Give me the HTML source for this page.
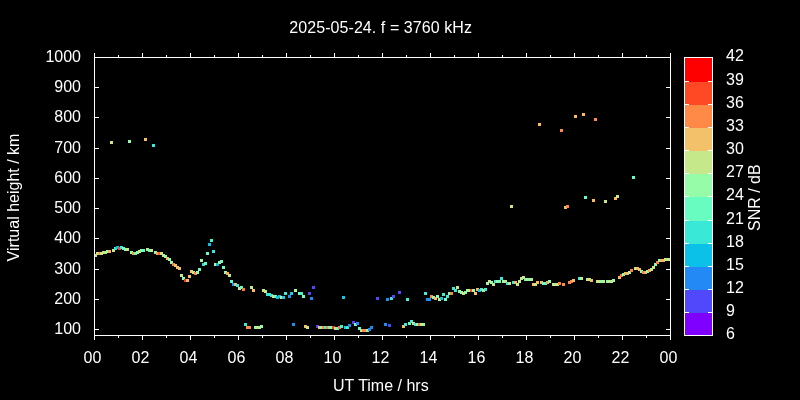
<!DOCTYPE html><html><head><meta charset="utf-8"><title>plot</title><style>html,body{margin:0;padding:0;background:#000;}svg{display:block}text{font-family:"Liberation Sans",sans-serif;font-size:16px;fill:#ffffff}</style></head><body>
<svg width="800" height="400" viewBox="0 0 800 400">
<rect width="800" height="400" fill="#000"/>
<g shape-rendering="crispEdges"><rect x="684" y="312" width="29" height="24" fill="#8000ff"/><rect x="684" y="289" width="29" height="24" fill="#5148fc"/><rect x="684" y="266" width="29" height="24" fill="#238af5"/><rect x="684" y="243" width="29" height="24" fill="#0cc1e8"/><rect x="684" y="220" width="29" height="24" fill="#3ae8d7"/><rect x="684" y="196" width="29" height="25" fill="#68fcc1"/><rect x="684" y="173" width="29" height="24" fill="#97fca7"/><rect x="684" y="150" width="29" height="24" fill="#c5e88a"/><rect x="684" y="127" width="29" height="24" fill="#f3c16a"/><rect x="684" y="104" width="29" height="24" fill="#ff8a48"/><rect x="684" y="81" width="29" height="24" fill="#ff4824"/><rect x="684" y="57" width="29" height="25" fill="#ff0000"/></g>
<g shape-rendering="crispEdges"><rect x="94" y="254" width="3" height="3" fill="#c5e88a"/><rect x="96" y="252" width="3" height="3" fill="#c5e88a"/><rect x="98" y="252" width="3" height="3" fill="#ffa156"/><rect x="100" y="252" width="3" height="3" fill="#c5e88a"/><rect x="102" y="251" width="3" height="3" fill="#c5e88a"/><rect x="104" y="251" width="3" height="3" fill="#c5e88a"/><rect x="106" y="250" width="3" height="3" fill="#97fca7"/><rect x="108" y="250" width="3" height="3" fill="#ffac5d"/><rect x="110" y="141" width="3" height="3" fill="#c5e88a"/><rect x="112" y="249" width="3" height="3" fill="#c5e88a"/><rect x="114" y="247" width="3" height="3" fill="#3ae8d7"/><rect x="116" y="246" width="3" height="3" fill="#0cc1e8"/><rect x="118" y="247" width="3" height="3" fill="#ff4824"/><rect x="120" y="246" width="3" height="3" fill="#3ae8d7"/><rect x="122" y="247" width="3" height="3" fill="#68fcc1"/><rect x="124" y="248" width="3" height="3" fill="#97fca7"/><rect x="126" y="248" width="3" height="3" fill="#c5e88a"/><rect x="128" y="140" width="3" height="3" fill="#97fca7"/><rect x="130" y="251" width="3" height="3" fill="#97fca7"/><rect x="132" y="252" width="3" height="3" fill="#ff964f"/><rect x="134" y="252" width="3" height="3" fill="#68fcc1"/><rect x="136" y="251" width="3" height="3" fill="#97fca7"/><rect x="138" y="250" width="3" height="3" fill="#c5e88a"/><rect x="140" y="249" width="3" height="3" fill="#80ffb4"/><rect x="142" y="249" width="3" height="3" fill="#68fcc1"/><rect x="144" y="138" width="3" height="3" fill="#f3c16a"/><rect x="146" y="248" width="3" height="3" fill="#c5e88a"/><rect x="148" y="249" width="3" height="3" fill="#5ffac5"/><rect x="150" y="249" width="3" height="3" fill="#c5e88a"/><rect x="152" y="144" width="3" height="3" fill="#3ae8d7"/><rect x="154" y="251" width="3" height="3" fill="#97fca7"/><rect x="156" y="252" width="3" height="3" fill="#ffa156"/><rect x="158" y="252" width="3" height="3" fill="#ff6333"/><rect x="160" y="252" width="3" height="3" fill="#c5e88a"/><rect x="162" y="254" width="3" height="3" fill="#c5e88a"/><rect x="164" y="255" width="3" height="3" fill="#97fca7"/><rect x="166" y="257" width="3" height="3" fill="#f8bc67"/><rect x="168" y="258" width="3" height="3" fill="#97fca7"/><rect x="170" y="261" width="3" height="3" fill="#97fca7"/><rect x="172" y="263" width="3" height="3" fill="#ff7d41"/><rect x="174" y="264" width="3" height="3" fill="#f3c16a"/><rect x="176" y="266" width="3" height="3" fill="#f3c16a"/><rect x="178" y="267" width="3" height="3" fill="#f8bc67"/><rect x="180" y="274" width="3" height="3" fill="#c5e88a"/><rect x="182" y="277" width="3" height="3" fill="#80ffb4"/><rect x="184" y="279" width="3" height="3" fill="#ff3319"/><rect x="186" y="279" width="3" height="3" fill="#f3c16a"/><rect x="188" y="275" width="3" height="3" fill="#f3c16a"/><rect x="190" y="270" width="3" height="3" fill="#f3c16a"/><rect x="192" y="271" width="3" height="3" fill="#c5e88a"/><rect x="194" y="272" width="3" height="3" fill="#ff7d41"/><rect x="196" y="271" width="3" height="3" fill="#97fca7"/><rect x="198" y="268" width="3" height="3" fill="#68fcc1"/><rect x="200" y="259" width="3" height="3" fill="#a0faa1"/><rect x="202" y="263" width="3" height="3" fill="#2cdedc"/><rect x="204" y="262" width="3" height="3" fill="#68fcc1"/><rect x="206" y="252" width="3" height="3" fill="#68fcc1"/><rect x="208" y="243" width="3" height="3" fill="#0cc1e8"/><rect x="210" y="239" width="3" height="3" fill="#48f0d0"/><rect x="212" y="250" width="3" height="3" fill="#3ae8d7"/><rect x="214" y="263" width="3" height="3" fill="#aef599"/><rect x="216" y="263" width="3" height="3" fill="#02b7eb"/><rect x="218" y="261" width="3" height="3" fill="#a5f89f"/><rect x="220" y="260" width="3" height="3" fill="#68fcc1"/><rect x="222" y="266" width="3" height="3" fill="#68fcc1"/><rect x="224" y="271" width="3" height="3" fill="#97fca7"/><rect x="226" y="272" width="3" height="3" fill="#ffa759"/><rect x="228" y="274" width="3" height="3" fill="#c5e88a"/><rect x="230" y="280" width="3" height="3" fill="#5af8c8"/><rect x="232" y="283" width="3" height="3" fill="#159cf1"/><rect x="234" y="283" width="3" height="3" fill="#f8bc67"/><rect x="236" y="284" width="3" height="3" fill="#3ae8d7"/><rect x="238" y="287" width="3" height="3" fill="#c5e88a"/><rect x="240" y="286" width="3" height="3" fill="#68fcc1"/><rect x="242" y="288" width="3" height="3" fill="#ff773d"/><rect x="244" y="323" width="3" height="3" fill="#3ae8d7"/><rect x="246" y="326" width="3" height="3" fill="#ff8a48"/><rect x="248" y="326" width="3" height="3" fill="#ff8a48"/><rect x="250" y="286" width="3" height="3" fill="#c5e88a"/><rect x="252" y="289" width="3" height="3" fill="#f8bc67"/><rect x="254" y="326" width="3" height="3" fill="#97fca7"/><rect x="256" y="326" width="3" height="3" fill="#c5e88a"/><rect x="258" y="326" width="3" height="3" fill="#c5e88a"/><rect x="260" y="325" width="3" height="3" fill="#97fca7"/><rect x="262" y="289" width="3" height="3" fill="#c5e88a"/><rect x="264" y="290" width="3" height="3" fill="#c5e88a"/><rect x="266" y="293" width="3" height="3" fill="#3ae8d7"/><rect x="268" y="293" width="3" height="3" fill="#3ae8d7"/><rect x="270" y="294" width="3" height="3" fill="#3ae8d7"/><rect x="272" y="295" width="3" height="3" fill="#c5e88a"/><rect x="274" y="295" width="3" height="3" fill="#68fcc1"/><rect x="276" y="296" width="3" height="3" fill="#0cc1e8"/><rect x="278" y="295" width="3" height="3" fill="#0cc1e8"/><rect x="280" y="296" width="3" height="3" fill="#c5e88a"/><rect x="282" y="296" width="3" height="3" fill="#15cae5"/><rect x="284" y="292" width="3" height="3" fill="#3febd5"/><rect x="288" y="295" width="3" height="3" fill="#1e90f4"/><rect x="290" y="292" width="3" height="3" fill="#19cee3"/><rect x="292" y="323" width="3" height="3" fill="#1e90f4"/><rect x="294" y="289" width="3" height="3" fill="#a5f89f"/><rect x="298" y="292" width="3" height="3" fill="#80ffb4"/><rect x="300" y="292" width="3" height="3" fill="#48f0d0"/><rect x="302" y="295" width="3" height="3" fill="#76ffb9"/><rect x="304" y="325" width="3" height="3" fill="#f8bc67"/><rect x="306" y="326" width="3" height="3" fill="#c5e88a"/><rect x="308" y="292" width="3" height="3" fill="#5148fc"/><rect x="310" y="297" width="3" height="3" fill="#238af5"/><rect x="312" y="286" width="3" height="3" fill="#5148fc"/><rect x="316" y="325" width="3" height="3" fill="#5148fc"/><rect x="318" y="326" width="3" height="3" fill="#f3c16a"/><rect x="320" y="326" width="3" height="3" fill="#97fca7"/><rect x="322" y="326" width="3" height="3" fill="#ff8a48"/><rect x="324" y="326" width="3" height="3" fill="#48f0d0"/><rect x="326" y="326" width="3" height="3" fill="#ff8a48"/><rect x="328" y="326" width="3" height="3" fill="#68fcc1"/><rect x="330" y="326" width="3" height="3" fill="#97fca7"/><rect x="332" y="326" width="3" height="3" fill="#ff3a1d"/><rect x="334" y="327" width="3" height="3" fill="#c5e88a"/><rect x="336" y="327" width="3" height="3" fill="#6dfdbe"/><rect x="338" y="326" width="3" height="3" fill="#ff773d"/><rect x="340" y="325" width="3" height="3" fill="#43eed2"/><rect x="342" y="296" width="3" height="3" fill="#10c5e6"/><rect x="344" y="326" width="3" height="3" fill="#19cee3"/><rect x="346" y="326" width="3" height="3" fill="#43eed2"/><rect x="348" y="324" width="3" height="3" fill="#238af5"/><rect x="352" y="321" width="3" height="3" fill="#5a3afd"/><rect x="354" y="323" width="3" height="3" fill="#6dfdbe"/><rect x="356" y="322" width="3" height="3" fill="#238af5"/><rect x="358" y="327" width="3" height="3" fill="#6dfdbe"/><rect x="360" y="329" width="3" height="3" fill="#c5e88a"/><rect x="362" y="329" width="3" height="3" fill="#ff8a48"/><rect x="364" y="329" width="3" height="3" fill="#ff8a48"/><rect x="366" y="329" width="3" height="3" fill="#9bfba4"/><rect x="368" y="328" width="3" height="3" fill="#238af5"/><rect x="370" y="326" width="3" height="3" fill="#238af5"/><rect x="376" y="297" width="3" height="3" fill="#5148fc"/><rect x="384" y="323" width="3" height="3" fill="#1e90f4"/><rect x="386" y="298" width="3" height="3" fill="#1e90f4"/><rect x="388" y="324" width="3" height="3" fill="#5148fc"/><rect x="390" y="297" width="3" height="3" fill="#3ae8d7"/><rect x="392" y="295" width="3" height="3" fill="#5148fc"/><rect x="398" y="291" width="3" height="3" fill="#5148fc"/><rect x="402" y="325" width="3" height="3" fill="#f8bc67"/><rect x="404" y="323" width="3" height="3" fill="#3febd5"/><rect x="406" y="298" width="3" height="3" fill="#48f0d0"/><rect x="408" y="322" width="3" height="3" fill="#68fcc1"/><rect x="410" y="320" width="3" height="3" fill="#3febd5"/><rect x="412" y="322" width="3" height="3" fill="#cae587"/><rect x="414" y="323" width="3" height="3" fill="#3ae8d7"/><rect x="416" y="323" width="3" height="3" fill="#9bfba4"/><rect x="418" y="323" width="3" height="3" fill="#ff773d"/><rect x="420" y="323" width="3" height="3" fill="#c5e88a"/><rect x="422" y="323" width="3" height="3" fill="#9bfba4"/><rect x="424" y="292" width="3" height="3" fill="#43eed2"/><rect x="426" y="298" width="3" height="3" fill="#1e90f4"/><rect x="428" y="298" width="3" height="3" fill="#1e90f4"/><rect x="430" y="295" width="3" height="3" fill="#ff8a48"/><rect x="432" y="296" width="3" height="3" fill="#97fca7"/><rect x="434" y="297" width="3" height="3" fill="#ffb260"/><rect x="436" y="295" width="3" height="3" fill="#97fca7"/><rect x="438" y="298" width="3" height="3" fill="#c5e88a"/><rect x="440" y="297" width="3" height="3" fill="#0cc1e8"/><rect x="442" y="293" width="3" height="3" fill="#43eed2"/><rect x="444" y="298" width="3" height="3" fill="#6dfdbe"/><rect x="446" y="295" width="3" height="3" fill="#3febd5"/><rect x="448" y="292" width="3" height="3" fill="#80ffb4"/><rect x="450" y="292" width="3" height="3" fill="#ff8a48"/><rect x="452" y="287" width="3" height="3" fill="#3febd5"/><rect x="454" y="289" width="3" height="3" fill="#3febd5"/><rect x="456" y="286" width="3" height="3" fill="#c5e88a"/><rect x="458" y="290" width="3" height="3" fill="#9bfba4"/><rect x="460" y="291" width="3" height="3" fill="#9bfba4"/><rect x="462" y="292" width="3" height="3" fill="#c5e88a"/><rect x="464" y="291" width="3" height="3" fill="#9bfba4"/><rect x="466" y="289" width="3" height="3" fill="#97fca7"/><rect x="468" y="289" width="3" height="3" fill="#c5e88a"/><rect x="470" y="289" width="3" height="3" fill="#ff4824"/><rect x="472" y="289" width="3" height="3" fill="#97fca7"/><rect x="474" y="292" width="3" height="3" fill="#f3c16a"/><rect x="476" y="288" width="3" height="3" fill="#ffb260"/><rect x="478" y="289" width="3" height="3" fill="#0cc1e8"/><rect x="480" y="288" width="3" height="3" fill="#43eed2"/><rect x="482" y="289" width="3" height="3" fill="#c5e88a"/><rect x="484" y="288" width="3" height="3" fill="#43eed2"/><rect x="486" y="282" width="3" height="3" fill="#9bfba4"/><rect x="488" y="280" width="3" height="3" fill="#c5e88a"/><rect x="490" y="281" width="3" height="3" fill="#97fca7"/><rect x="492" y="283" width="3" height="3" fill="#c5e88a"/><rect x="494" y="280" width="3" height="3" fill="#3ae8d7"/><rect x="496" y="280" width="3" height="3" fill="#9bfba4"/><rect x="498" y="280" width="3" height="3" fill="#76ffb9"/><rect x="500" y="277" width="3" height="3" fill="#3ae8d7"/><rect x="502" y="280" width="3" height="3" fill="#9bfba4"/><rect x="504" y="280" width="3" height="3" fill="#c5e88a"/><rect x="506" y="282" width="3" height="3" fill="#3ae8d7"/><rect x="508" y="282" width="3" height="3" fill="#c5e88a"/><rect x="510" y="205" width="3" height="3" fill="#c5e88a"/><rect x="512" y="281" width="3" height="3" fill="#3ae8d7"/><rect x="514" y="281" width="3" height="3" fill="#ffb260"/><rect x="516" y="283" width="3" height="3" fill="#c5e88a"/><rect x="518" y="280" width="3" height="3" fill="#c5e88a"/><rect x="520" y="277" width="3" height="3" fill="#c5e88a"/><rect x="522" y="276" width="3" height="3" fill="#c5e88a"/><rect x="524" y="278" width="3" height="3" fill="#68fcc1"/><rect x="526" y="278" width="3" height="3" fill="#c5e88a"/><rect x="528" y="278" width="3" height="3" fill="#76ffb9"/><rect x="530" y="278" width="3" height="3" fill="#c5e88a"/><rect x="532" y="283" width="3" height="3" fill="#fdb763"/><rect x="534" y="283" width="3" height="3" fill="#c5e88a"/><rect x="536" y="281" width="3" height="3" fill="#f8bc67"/><rect x="538" y="123" width="3" height="3" fill="#f8bc67"/><rect x="540" y="281" width="3" height="3" fill="#f8bc67"/><rect x="542" y="282" width="3" height="3" fill="#68fcc1"/><rect x="544" y="282" width="3" height="3" fill="#68fcc1"/><rect x="546" y="281" width="3" height="3" fill="#ffa759"/><rect x="548" y="280" width="3" height="3" fill="#8dfeac"/><rect x="552" y="283" width="3" height="3" fill="#c5e88a"/><rect x="554" y="283" width="3" height="3" fill="#c5e88a"/><rect x="556" y="283" width="3" height="3" fill="#c5e88a"/><rect x="558" y="282" width="3" height="3" fill="#ff8a48"/><rect x="560" y="129" width="3" height="3" fill="#ff8a48"/><rect x="562" y="283" width="3" height="3" fill="#ff8a48"/><rect x="564" y="206" width="3" height="3" fill="#f8bc67"/><rect x="566" y="205" width="3" height="3" fill="#ff8a48"/><rect x="568" y="281" width="3" height="3" fill="#ff8a48"/><rect x="570" y="280" width="3" height="3" fill="#ff8a48"/><rect x="572" y="279" width="3" height="3" fill="#f8bc67"/><rect x="574" y="115" width="3" height="3" fill="#f8bc67"/><rect x="578" y="277" width="3" height="3" fill="#3febd5"/><rect x="580" y="277" width="3" height="3" fill="#c5e88a"/><rect x="582" y="113" width="3" height="3" fill="#f8bc67"/><rect x="584" y="196" width="3" height="3" fill="#68fcc1"/><rect x="586" y="278" width="3" height="3" fill="#c5e88a"/><rect x="588" y="278" width="3" height="3" fill="#c5e88a"/><rect x="590" y="279" width="3" height="3" fill="#f8bc67"/><rect x="592" y="199" width="3" height="3" fill="#f8bc67"/><rect x="594" y="118" width="3" height="3" fill="#ff8a48"/><rect x="596" y="280" width="3" height="3" fill="#c5e88a"/><rect x="598" y="280" width="3" height="3" fill="#c5e88a"/><rect x="600" y="280" width="3" height="3" fill="#84ffb2"/><rect x="602" y="280" width="3" height="3" fill="#c5e88a"/><rect x="604" y="200" width="3" height="3" fill="#c5e88a"/><rect x="606" y="280" width="3" height="3" fill="#84ffb2"/><rect x="608" y="280" width="3" height="3" fill="#c5e88a"/><rect x="610" y="280" width="3" height="3" fill="#c5e88a"/><rect x="612" y="279" width="3" height="3" fill="#97fca7"/><rect x="614" y="197" width="3" height="3" fill="#ffb260"/><rect x="616" y="195" width="3" height="3" fill="#c5e88a"/><rect x="618" y="276" width="3" height="3" fill="#f8bc67"/><rect x="620" y="274" width="3" height="3" fill="#ff773d"/><rect x="622" y="273" width="3" height="3" fill="#84ffb2"/><rect x="624" y="272" width="3" height="3" fill="#f8bc67"/><rect x="626" y="272" width="3" height="3" fill="#f8bc67"/><rect x="628" y="271" width="3" height="3" fill="#a5f89f"/><rect x="630" y="269" width="3" height="3" fill="#ff7d41"/><rect x="632" y="176" width="3" height="3" fill="#68fcc1"/><rect x="634" y="267" width="3" height="3" fill="#c5e88a"/><rect x="636" y="267" width="3" height="3" fill="#f8bc67"/><rect x="638" y="268" width="3" height="3" fill="#f8bc67"/><rect x="640" y="270" width="3" height="3" fill="#97fca7"/><rect x="642" y="271" width="3" height="3" fill="#ff7d41"/><rect x="644" y="271" width="3" height="3" fill="#ffb260"/><rect x="646" y="270" width="3" height="3" fill="#97fca7"/><rect x="648" y="269" width="3" height="3" fill="#ffa759"/><rect x="650" y="268" width="3" height="3" fill="#c5e88a"/><rect x="652" y="266" width="3" height="3" fill="#c5e88a"/><rect x="654" y="263" width="3" height="3" fill="#97fca7"/><rect x="656" y="261" width="3" height="3" fill="#ff7d41"/><rect x="658" y="259" width="3" height="3" fill="#84ffb2"/><rect x="660" y="259" width="3" height="3" fill="#ffb260"/><rect x="662" y="259" width="3" height="3" fill="#ffb260"/><rect x="664" y="258" width="3" height="3" fill="#c5e88a"/><rect x="666" y="258" width="3" height="3" fill="#c5e88a"/><rect x="668" y="258" width="3" height="3" fill="#c5e88a"/></g>
<g fill="#ffffff" shape-rendering="crispEdges"><rect x="94" y="57" width="577" height="1"/><rect x="94" y="335" width="577" height="1"/><rect x="94" y="57" width="1" height="279"/><rect x="670" y="57" width="1" height="279"/><rect x="94" y="335" width="1" height="5"/><rect x="94" y="53" width="1" height="5"/><rect x="118" y="335" width="1" height="3"/><rect x="118" y="55" width="1" height="3"/><rect x="142" y="335" width="1" height="5"/><rect x="142" y="53" width="1" height="5"/><rect x="166" y="335" width="1" height="3"/><rect x="166" y="55" width="1" height="3"/><rect x="190" y="335" width="1" height="5"/><rect x="190" y="53" width="1" height="5"/><rect x="214" y="335" width="1" height="3"/><rect x="214" y="55" width="1" height="3"/><rect x="238" y="335" width="1" height="5"/><rect x="238" y="53" width="1" height="5"/><rect x="262" y="335" width="1" height="3"/><rect x="262" y="55" width="1" height="3"/><rect x="286" y="335" width="1" height="5"/><rect x="286" y="53" width="1" height="5"/><rect x="310" y="335" width="1" height="3"/><rect x="310" y="55" width="1" height="3"/><rect x="334" y="335" width="1" height="5"/><rect x="334" y="53" width="1" height="5"/><rect x="358" y="335" width="1" height="3"/><rect x="358" y="55" width="1" height="3"/><rect x="382" y="335" width="1" height="5"/><rect x="382" y="53" width="1" height="5"/><rect x="406" y="335" width="1" height="3"/><rect x="406" y="55" width="1" height="3"/><rect x="430" y="335" width="1" height="5"/><rect x="430" y="53" width="1" height="5"/><rect x="454" y="335" width="1" height="3"/><rect x="454" y="55" width="1" height="3"/><rect x="478" y="335" width="1" height="5"/><rect x="478" y="53" width="1" height="5"/><rect x="502" y="335" width="1" height="3"/><rect x="502" y="55" width="1" height="3"/><rect x="526" y="335" width="1" height="5"/><rect x="526" y="53" width="1" height="5"/><rect x="550" y="335" width="1" height="3"/><rect x="550" y="55" width="1" height="3"/><rect x="574" y="335" width="1" height="5"/><rect x="574" y="53" width="1" height="5"/><rect x="598" y="335" width="1" height="3"/><rect x="598" y="55" width="1" height="3"/><rect x="622" y="335" width="1" height="5"/><rect x="622" y="53" width="1" height="5"/><rect x="646" y="335" width="1" height="3"/><rect x="646" y="55" width="1" height="3"/><rect x="670" y="335" width="1" height="5"/><rect x="670" y="53" width="1" height="5"/><rect x="94" y="329" width="5" height="1"/><rect x="666" y="329" width="5" height="1"/><rect x="94" y="299" width="5" height="1"/><rect x="666" y="299" width="5" height="1"/><rect x="94" y="269" width="5" height="1"/><rect x="666" y="269" width="5" height="1"/><rect x="94" y="238" width="5" height="1"/><rect x="666" y="238" width="5" height="1"/><rect x="94" y="208" width="5" height="1"/><rect x="666" y="208" width="5" height="1"/><rect x="94" y="178" width="5" height="1"/><rect x="666" y="178" width="5" height="1"/><rect x="94" y="148" width="5" height="1"/><rect x="666" y="148" width="5" height="1"/><rect x="94" y="117" width="5" height="1"/><rect x="666" y="117" width="5" height="1"/><rect x="94" y="87" width="5" height="1"/><rect x="666" y="87" width="5" height="1"/><rect x="94" y="57" width="5" height="1"/><rect x="666" y="57" width="5" height="1"/><rect x="684" y="57" width="29" height="1"/><rect x="684" y="335" width="29" height="1"/><rect x="684" y="57" width="1" height="279"/><rect x="712" y="57" width="1" height="279"/><rect x="684" y="312" width="5" height="1"/><rect x="708" y="312" width="5" height="1"/><rect x="684" y="289" width="5" height="1"/><rect x="708" y="289" width="5" height="1"/><rect x="684" y="266" width="5" height="1"/><rect x="708" y="266" width="5" height="1"/><rect x="684" y="243" width="5" height="1"/><rect x="708" y="243" width="5" height="1"/><rect x="684" y="220" width="5" height="1"/><rect x="708" y="220" width="5" height="1"/><rect x="684" y="196" width="5" height="1"/><rect x="708" y="196" width="5" height="1"/><rect x="684" y="173" width="5" height="1"/><rect x="708" y="173" width="5" height="1"/><rect x="684" y="150" width="5" height="1"/><rect x="708" y="150" width="5" height="1"/><rect x="684" y="127" width="5" height="1"/><rect x="708" y="127" width="5" height="1"/><rect x="684" y="104" width="5" height="1"/><rect x="708" y="104" width="5" height="1"/><rect x="684" y="81" width="5" height="1"/><rect x="708" y="81" width="5" height="1"/></g>
<text x="81" y="334" text-anchor="end">100</text><text x="81" y="304" text-anchor="end">200</text><text x="81" y="274" text-anchor="end">300</text><text x="81" y="243" text-anchor="end">400</text><text x="81" y="213" text-anchor="end">500</text><text x="81" y="183" text-anchor="end">600</text><text x="81" y="153" text-anchor="end">700</text><text x="81" y="122" text-anchor="end">800</text><text x="81" y="92" text-anchor="end">900</text><text x="81" y="62" text-anchor="end">1000</text><text x="92.5" y="363" text-anchor="middle">00</text><text x="140.5" y="363" text-anchor="middle">02</text><text x="188.5" y="363" text-anchor="middle">04</text><text x="236.5" y="363" text-anchor="middle">06</text><text x="284.5" y="363" text-anchor="middle">08</text><text x="332.5" y="363" text-anchor="middle">10</text><text x="380.5" y="363" text-anchor="middle">12</text><text x="428.5" y="363" text-anchor="middle">14</text><text x="476.5" y="363" text-anchor="middle">16</text><text x="524.5" y="363" text-anchor="middle">18</text><text x="572.5" y="363" text-anchor="middle">20</text><text x="620.5" y="363" text-anchor="middle">22</text><text x="668.5" y="363" text-anchor="middle">00</text><text x="726" y="339">6</text><text x="726" y="316">9</text><text x="726" y="293">12</text><text x="726" y="270">15</text><text x="726" y="247">18</text><text x="726" y="224">21</text><text x="726" y="200">24</text><text x="726" y="177">27</text><text x="726" y="154">30</text><text x="726" y="131">33</text><text x="726" y="108">36</text><text x="726" y="85">39</text><text x="726" y="61">42</text><text x="289.3" y="33" letter-spacing="0.07">2025-05-24. f = 3760 kHz</text><text x="380.8" y="391" text-anchor="middle">UT Time / hrs</text><text transform="translate(19,197.5) rotate(-90)" text-anchor="middle">Virtual height / km</text><text transform="translate(760.3,197.7) rotate(-90)" text-anchor="middle">SNR / dB</text>
</svg></body></html>
